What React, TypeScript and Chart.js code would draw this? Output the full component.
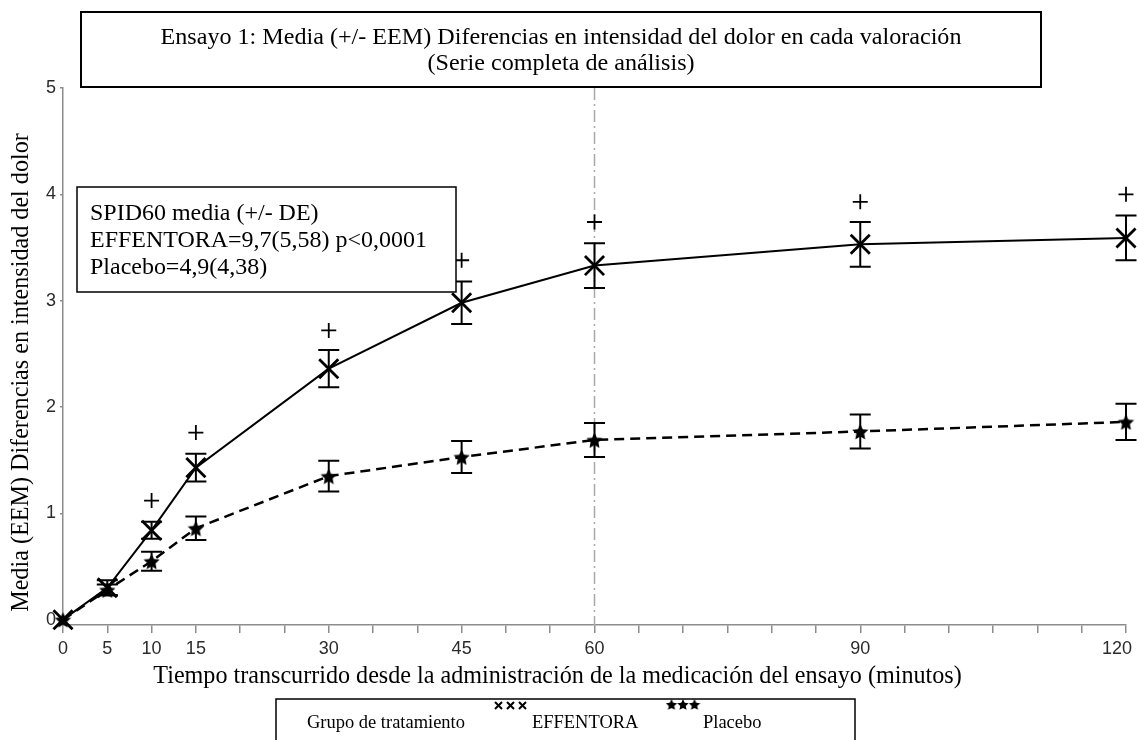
import React, { useEffect, useRef } from 'react';
import { Chart, registerables } from 'chart.js';

Chart.register(...registerables);

// ---------- data ----------
const titleLines = [
  'Ensayo 1: Media (+/- EEM) Diferencias en intensidad del dolor en cada valoración',
  '(Serie completa de análisis)',
];
const yAxisTitle = 'Media (EEM) Diferencias en intensidad del dolor';
const xAxisTitle =
  'Tiempo transcurrido desde la administración de la medicación del ensayo (minutos)';
const annotationLines = [
  'SPID60 media (+/- DE)',
  'EFFENTORA=9,7(5,58) p<0,0001',
  'Placebo=4,9(4,38)',
];
const legendTitle = 'Grupo de tratamiento';
const seriesLabels = ['EFFENTORA', 'Placebo'];

const timePoints = [0, 5, 10, 15, 30, 45, 60, 90, 120];
const xTickLabels = [0, 5, 10, 15, 30, 45, 60, 90, 120];
const yTickValues = [0, 1, 2, 3, 4, 5];

const effentoraMean = [0, 0.3, 0.84, 1.43, 2.36, 2.98, 3.33, 3.53, 3.59];
const effentoraSem = [0, 0.07, 0.08, 0.13, 0.175, 0.2, 0.21, 0.21, 0.21];
const placeboMean = [0, 0.28, 0.55, 0.86, 1.35, 1.53, 1.69, 1.77, 1.86];
const placeboSem = [0, 0.05, 0.09, 0.11, 0.145, 0.15, 0.16, 0.16, 0.17];

const significanceTimes = [10, 15, 30, 45, 60, 90, 120];
const significanceMarks = [1.12, 1.76, 2.72, 3.38, 3.74, 3.93, 4.0];

const referenceTime = 60;

// ---------- helpers ----------
const SERIF = "'Liberation Serif', 'Times New Roman', serif";
const SANS = "'Liberation Sans', Arial, sans-serif";

function makeStar(size: number): HTMLCanvasElement {
  const c = document.createElement('canvas');
  c.width = size;
  c.height = size;
  const g = c.getContext('2d')!;
  const cx = size / 2;
  const R = size / 2;
  const r = R * 0.48;
  g.beginPath();
  for (let i = 0; i < 10; i++) {
    const a = -Math.PI / 2 + (i * Math.PI) / 5;
    const rad = i % 2 ? r : R;
    g.lineTo(cx + rad * Math.cos(a), cx + 1 + rad * Math.sin(a));
  }
  g.closePath();
  g.fillStyle = '#000';
  g.fill();
  return c;
}

function fitSize(ctx: CanvasRenderingContext2D, text: string, family: string, target: number) {
  ctx.font = `100px ${family}`;
  const w = ctx.measureText(text).width;
  return (100 * target) / w;
}

const decorPlugin = {
  id: 'decor',
  beforeDatasetsDraw(chart: any) {
    const { ctx, chartArea, scales } = chart;
    const x = scales.x;
    const y = scales.y;
    // reference dash-dot line
    ctx.save();
    ctx.strokeStyle = '#a8a8a8';
    ctx.lineWidth = 1.5;
    ctx.setLineDash([12, 4, 2, 4]);
    const px = x.getPixelForValue(referenceTime);
    ctx.beginPath();
    ctx.moveTo(px, chartArea.top);
    ctx.lineTo(px, chartArea.bottom);
    ctx.stroke();
    ctx.restore();

    // error bars
    chart.data.datasets.forEach((ds: any) => {
      if (!ds.sem) return;
      ctx.save();
      ctx.strokeStyle = '#000';
      ctx.lineWidth = 2;
      ctx.setLineDash([]);
      ds.data.forEach((pt: any, i: number) => {
        const s = ds.sem[i];
        if (!s) return;
        const cx = x.getPixelForValue(pt.x);
        const top = y.getPixelForValue(pt.y + s);
        const bot = y.getPixelForValue(pt.y - s);
        ctx.beginPath();
        ctx.moveTo(cx, top);
        ctx.lineTo(cx, bot);
        ctx.moveTo(cx - 10.5, top);
        ctx.lineTo(cx + 10.5, top);
        ctx.moveTo(cx - 10.5, bot);
        ctx.lineTo(cx + 10.5, bot);
        ctx.stroke();
      });
      ctx.restore();
    });
  },
  afterDraw(chart: any) {
    const ctx: CanvasRenderingContext2D = chart.ctx;
    ctx.save();
    ctx.setLineDash([]);
    ctx.strokeStyle = '#000';
    ctx.lineWidth = 2;

    // title box
    ctx.fillStyle = '#fff';
    ctx.fillRect(81, 12, 960, 75);
    ctx.strokeRect(81, 12, 960, 75);
    const tSize = fitSize(ctx, titleLines[0], SERIF, 801);
    ctx.font = `${tSize}px ${SERIF}`;
    ctx.fillStyle = '#000';
    ctx.textAlign = 'center';
    ctx.textBaseline = 'alphabetic';
    ctx.fillText(titleLines[0], 561, 44);
    ctx.fillText(titleLines[1], 561, 70);

    // annotation box
    ctx.lineWidth = 1.5;
    ctx.fillStyle = '#fff';
    ctx.fillRect(77, 187, 379, 105);
    ctx.strokeRect(77, 187, 379, 105);
    const aSize = fitSize(ctx, annotationLines[1], SERIF, 337);
    ctx.font = `${aSize}px ${SERIF}`;
    ctx.fillStyle = '#000';
    ctx.textAlign = 'left';
    annotationLines.forEach((l, i) => ctx.fillText(l, 90, 220 + i * 27));

    // y axis title
    const ySize = fitSize(ctx, yAxisTitle, SERIF, 479);
    ctx.save();
    ctx.translate(22, 372.5);
    ctx.rotate(-Math.PI / 2);
    ctx.font = `${ySize}px ${SERIF}`;
    ctx.textAlign = 'center';
    ctx.textBaseline = 'middle';
    ctx.fillText(yAxisTitle, 0, 0);
    ctx.restore();

    // x axis title
    const xSize = fitSize(ctx, xAxisTitle, SERIF, 809);
    ctx.font = `${xSize}px ${SERIF}`;
    ctx.textAlign = 'center';
    ctx.textBaseline = 'alphabetic';
    ctx.fillText(xAxisTitle, 557.5, 683);

    // legend box
    ctx.lineWidth = 1.5;
    ctx.strokeRect(276, 699, 579, 60);
    const lSize = fitSize(ctx, legendTitle, SERIF, 158);
    ctx.font = `${lSize}px ${SERIF}`;
    ctx.textAlign = 'left';
    ctx.fillText(legendTitle, 307, 728);
    const labels = chart.data.datasets.slice(0, 2).map((d: any) => d.label);
    ctx.fillText(labels[0], 532, 728);
    ctx.fillText(labels[1], 703, 728);
    // legend markers: X's
    ctx.lineWidth = 2;
    [498.5, 510.5, 522.5].forEach((cx) => {
      ctx.beginPath();
      ctx.moveTo(cx - 3.5, 702);
      ctx.lineTo(cx + 3.5, 709);
      ctx.moveTo(cx + 3.5, 702);
      ctx.lineTo(cx - 3.5, 709);
      ctx.stroke();
    });
    // legend markers: stars
    const star = makeStar(12);
    [671.5, 683, 694.5].forEach((cx) => ctx.drawImage(star, cx - 6, 698, 12, 12));

    ctx.restore();
  },
};

export default function App() {
  const ref = useRef<HTMLCanvasElement | null>(null);

  useEffect(() => {
    document.body.style.margin = '0';
    const canvas = ref.current!;
    const starImg = makeStar(17);

    const chart = new Chart(canvas, {
      type: 'line',
      data: {
        datasets: [
          {
            label: seriesLabels[0],
            data: timePoints.map((t, i) => ({ x: t, y: effentoraMean[i] })),
            sem: effentoraSem,
            borderColor: '#000',
            backgroundColor: '#000',
            borderWidth: 2,
            pointStyle: 'crossRot',
            pointRadius: 13.5,
            pointBorderWidth: 2.8,
            pointBorderColor: '#000',
            tension: 0,
            clip: false,
          } as any,
          {
            label: seriesLabels[1],
            data: timePoints.map((t, i) => ({ x: t, y: placeboMean[i] })),
            sem: placeboSem,
            borderColor: '#000',
            backgroundColor: '#000',
            borderWidth: 2.5,
            borderDash: [10, 6],
            pointStyle: starImg,
            pointRadius: 8,
            tension: 0,
            clip: false,
          } as any,
          {
            label: 'p<0,05',
            data: significanceTimes.map((t, i) => ({ x: t, y: significanceMarks[i] })),
            showLine: false,
            borderColor: '#000',
            backgroundColor: '#000',
            pointStyle: 'cross',
            pointRadius: 7.5,
            pointBorderWidth: 1.8,
            clip: false,
          } as any,
        ],
      },
      options: {
        responsive: false,
        animation: false,
        layout: { autoPadding: false, padding: { left: 0, top: 88, right: 11, bottom: 0 } },
        plugins: {
          legend: { display: false },
          title: { display: false },
          tooltip: { enabled: false },
        },
        scales: {
          x: {
            type: 'linear',
            min: 0,
            max: 120,
            border: { color: '#8c8c8c', width: 1.5 },
            grid: {
              drawOnChartArea: false,
              drawTicks: true,
              tickLength: 8,
              color: '#8c8c8c',
              lineWidth: 1.5,
            },
            ticks: {
              stepSize: 5,
              autoSkip: false,
              maxRotation: 0,
              padding: 5,
              color: '#2b2b2b',
              font: { family: SANS, size: 18 },
              callback: (v: any) => {
                const n = Number(v);
                if (!xTickLabels.includes(n)) return '';
                // last label sits flush with the canvas edge: pad so it stays visible
                return n === 120 ? `${n}\u2003` : String(n);
              },
            },
            afterFit: (s: any) => {
              s.height = 115;
              s.paddingLeft = 0;
              s.paddingRight = 0;
            },
          },
          y: {
            type: 'linear',
            min: -0.05,
            max: 5,
            border: { color: '#8c8c8c', width: 1.5 },
            grid: {
              drawOnChartArea: false,
              drawTicks: true,
              tickLength: 3,
              color: '#8c8c8c',
              lineWidth: 1.5,
            },
            afterBuildTicks: (s: any) => {
              s.ticks = yTickValues.map((v) => ({ value: v }));
            },
            ticks: {
              padding: 4,
              color: '#2b2b2b',
              font: { family: SANS, size: 18 },
              callback: (v: any) => String(v),
            },
            afterFit: (s: any) => {
              s.width = 63;
            },
          },
        },
      } as any,
      plugins: [decorPlugin],
    });

    return () => chart.destroy();
  }, []);

  return (
    <div style={{ position: 'absolute', left: 0, top: 0, width: 1137, height: 740, background: '#fff' }}>
      <canvas ref={ref} width={1137} height={740} />
    </div>
  );
}
